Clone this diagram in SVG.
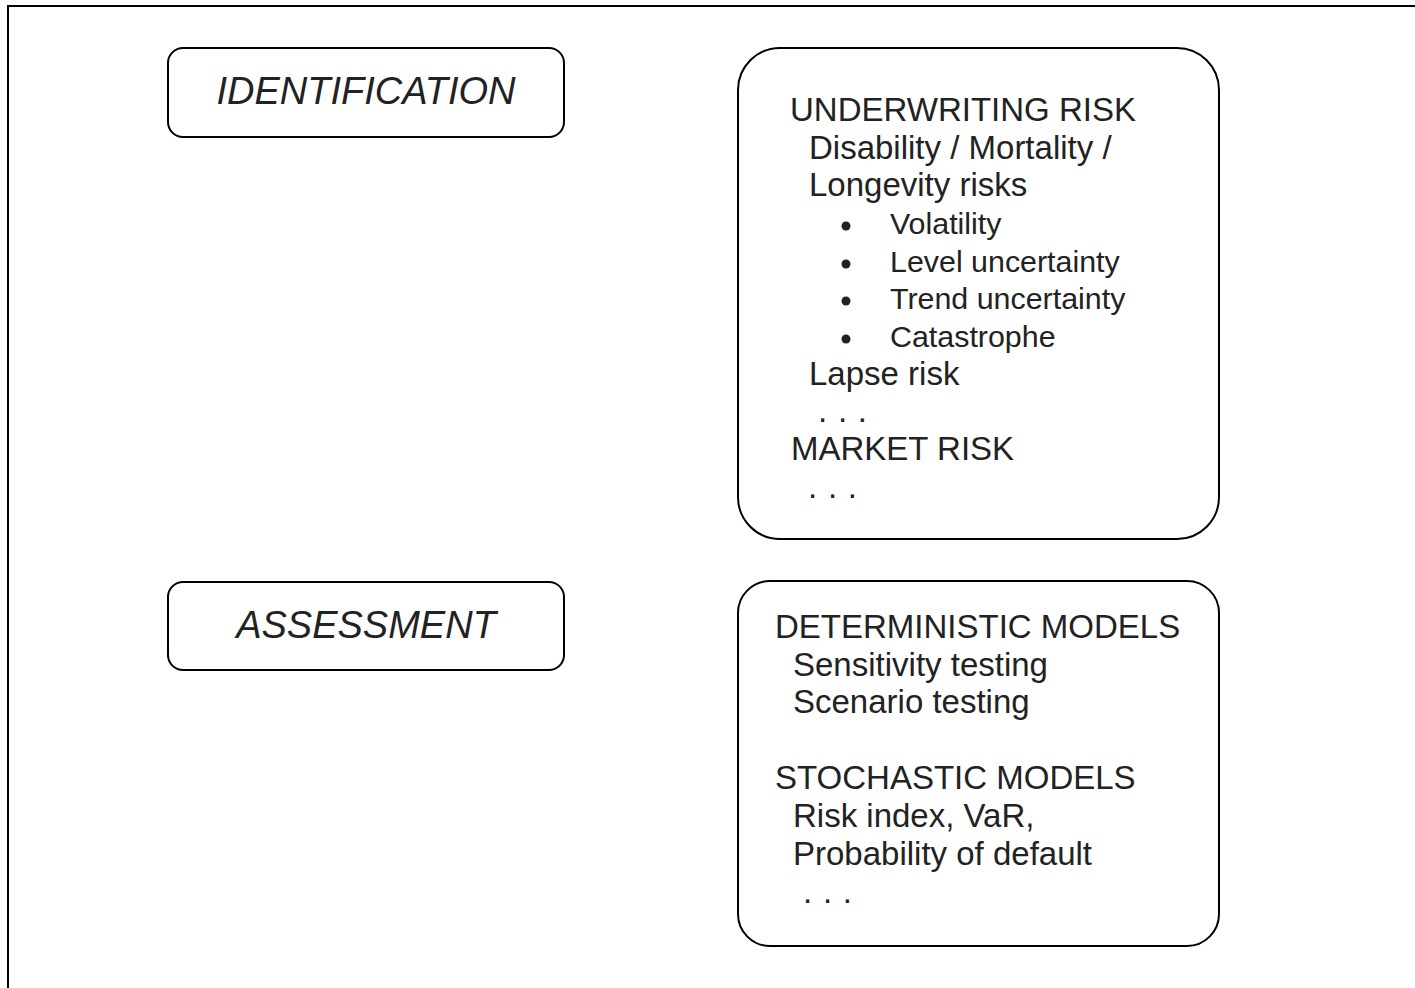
<svg xmlns="http://www.w3.org/2000/svg" width="1415" height="988" viewBox="0 0 1415 988">
<style>
.box{fill:#fff;stroke:#000;stroke-width:2}
.t{font-family:"Liberation Sans",Arial,sans-serif;font-size:33px;fill:#222}
.b{font-family:"Liberation Sans",Arial,sans-serif;font-size:30.4px;fill:#222}
.h{font-family:"Liberation Sans",Arial,sans-serif;font-size:38px;font-style:italic;fill:#222;text-anchor:middle}
.dot{fill:#222}
</style>
<rect x="0" y="0" width="1415" height="988" fill="#fff"/>
<rect x="8" y="6" width="1430" height="1010" fill="none" stroke="#000" stroke-width="2"/>
<g id="identification">
<rect class="box" x="168" y="48" width="396" height="89" rx="15"/>
<text class="h" x="366" y="104">IDENTIFICATION</text>
</g>
<g id="assessment">
<rect class="box" x="168" y="582" width="396" height="88" rx="15"/>
<text class="h" x="366" y="638">ASSESSMENT</text>
</g>
<g id="risks">
<rect class="box" x="738" y="48" width="481" height="491" rx="42"/>
<text class="t" x="790" y="121">UNDERWRITING RISK</text>
<text class="t" x="809" y="159">Disability / Mortality /</text>
<text class="t" x="809" y="196">Longevity risks</text>
<circle class="dot" cx="846" cy="226" r="4.5"/>
<text class="b" x="890" y="234">Volatility</text>
<circle class="dot" cx="846" cy="264" r="4.5"/>
<text class="b" x="890" y="272">Level uncertainty</text>
<circle class="dot" cx="846" cy="301" r="4.5"/>
<text class="b" x="890" y="309">Trend uncertainty</text>
<circle class="dot" cx="846" cy="339" r="4.5"/>
<text class="b" x="890" y="347">Catastrophe</text>
<text class="t" x="809" y="385">Lapse risk</text>
<text class="t" x="818" y="422" letter-spacing="0.8">. . .</text>
<text class="t" x="791" y="460">MARKET RISK</text>
<text class="t" x="808" y="498" letter-spacing="0.8">. . .</text>
</g>
<g id="models">
<rect class="box" x="738" y="581" width="481" height="365" rx="32"/>
<text class="t" x="775" y="638">DETERMINISTIC MODELS</text>
<text class="t" x="793" y="676">Sensitivity testing</text>
<text class="t" x="793" y="713">Scenario testing</text>
<text class="t" x="775" y="789">STOCHASTIC MODELS</text>
<text class="t" x="793" y="827">Risk index, VaR,</text>
<text class="t" x="793" y="865">Probability of default</text>
<text class="t" x="803" y="903" letter-spacing="0.8">. . .</text>
</g>
<g id="connectors"></g>
</svg>
